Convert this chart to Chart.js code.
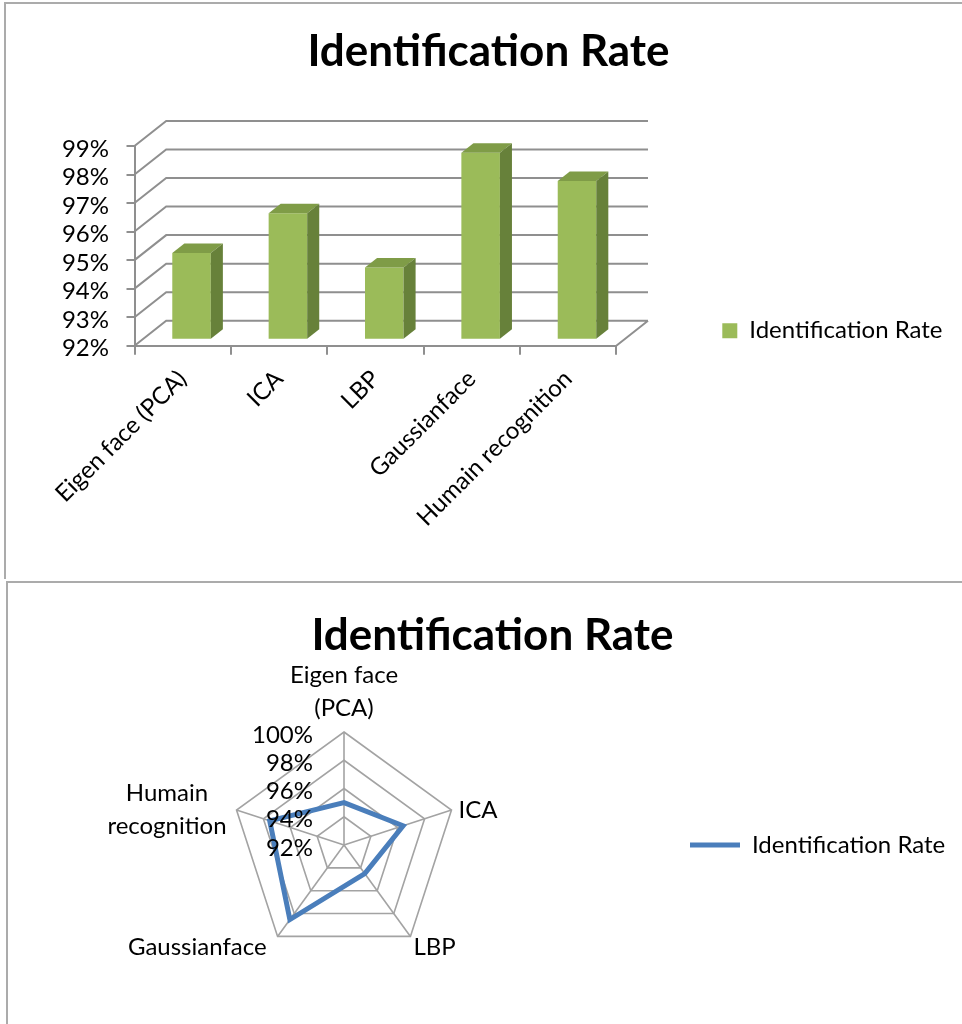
<!DOCTYPE html>
<html>
<head>
<meta charset="utf-8">
<title>Identification Rate</title>
<script src="https://cdn.jsdelivr.net/npm/chart.js@4.4.0/dist/chart.umd.min.js"></script>
<style>
  body { margin: 0; background: #fff; width: 962px; height: 1024px; overflow: hidden; position: relative; }
  .panel { position: absolute; border-left: 2px solid #ababab; border-top: 2px solid #ababab; }
  #barPanel { left: 4px; top: 2px; width: 960px; height: 575px; }
  #radarPanel { left: 6px; top: 581px; width: 960px; height: 445px; }
  canvas { position: absolute; left: 0; top: 0; }
</style>
</head>
<body>
<div class="panel" id="barPanel"><canvas id="barChart" width="956" height="573"></canvas></div>
<div class="panel" id="radarPanel"><canvas id="radarChart" width="954" height="441"></canvas></div>

<script>
// data
const categories = ['Eigen face (PCA)', 'ICA', 'LBP', 'Gaussianface', 'Humain recognition'];
const radarLabels = [['Eigen face', '(PCA)'], 'ICA', 'LBP', 'Gaussianface', ['Humain', 'recognition']];
const identificationRate = [95.0, 96.4, 94.5, 98.52, 97.53];
const barTicks = [92, 93, 94, 95, 96, 97, 98, 99];
const radarTicks = [92, 94, 96, 98, 100];

const FONT = 'Lato, "Open Sans", sans-serif';
const TEXT_SIZE = 24;
const GRID = '#8f8f8f';
const WEB = '#a3a3a3';
Chart.defaults.font.family = FONT;
Chart.defaults.color = '#000';

// legend text width decides how far the legends sit from the plots
const measure = document.createElement('canvas').getContext('2d');
measure.font = TEXT_SIZE + 'px ' + FONT;
const legendTextW = measure.measureText('Identification Rate').width;

// ---------- 3D column chart ----------
const DEPTH_X = 31.7, DEPTH_Y = -25;   // wall depth
const BAR_FRONT = 0.28, BAR_DEPTH = 0.38;

const bar = { left: 128.5, right: 610.3, top: 142, bottom: 341.7, legendX: 716.3, titleX: 482.5, titleY: 48 };
const barPadR = 956 - (bar.legendX - 3) - (15 + TEXT_SIZE / 2 + 13 + legendTextW);
const barPadL = 2 * bar.titleX - 956 + barPadR;

const frame3d = {
    id: 'frame3d',
    beforeDatasetsDraw(chart) {
        const { ctx, chartArea: a, scales: { y } } = chart;
        ctx.save();
        ctx.strokeStyle = GRID;
        ctx.lineWidth = 2;
        ctx.beginPath();
        y.ticks.forEach(t => {
            const py = y.getPixelForValue(t.value);
            ctx.moveTo(a.left, py);
            ctx.lineTo(a.left + DEPTH_X, py + DEPTH_Y);
            ctx.lineTo(a.right + DEPTH_X, py + DEPTH_Y);
        });
        const yb = y.getPixelForValue(y.min);
        ctx.moveTo(a.right, yb);
        ctx.lineTo(a.right + DEPTH_X, yb + DEPTH_Y);
        ctx.stroke();
        ctx.restore();

        // columns stand a little behind the front edge of the floor
        ctx.save();
        ctx.translate(DEPTH_X * BAR_FRONT, DEPTH_Y * BAR_FRONT);
    },
    afterDatasetsDraw(chart) {
        const { ctx, scales: { y: ys } } = chart;
        const dx = DEPTH_X * BAR_DEPTH, dy = DEPTH_Y * BAR_DEPTH;
        const base = ys.getPixelForValue(ys.min);
        chart.getDatasetMeta(0).data.forEach(el => {
            const { x, y, width } = el.getProps(['x', 'y', 'width'], true);
            const l = x - width / 2, r = x + width / 2;
            // top face
            ctx.fillStyle = '#7f9c47';
            ctx.beginPath();
            ctx.moveTo(l, y); ctx.lineTo(l + dx, y + dy); ctx.lineTo(r + dx, y + dy); ctx.lineTo(r, y);
            ctx.closePath(); ctx.fill();
            // side face
            ctx.fillStyle = '#67813a';
            ctx.beginPath();
            ctx.moveTo(r, y); ctx.lineTo(r + dx, y + dy); ctx.lineTo(r + dx, base + dy); ctx.lineTo(r, base);
            ctx.closePath(); ctx.fill();
        });
        ctx.restore();
    }
};

new Chart(document.getElementById('barChart'), {
    type: 'bar',
    data: {
        labels: categories,
        datasets: [{
            label: 'Identification Rate',
            data: identificationRate,
            backgroundColor: '#9bbb59',
            borderWidth: 0,
            barPercentage: 0.4,
            categoryPercentage: 1
        }]
    },
    options: {
        responsive: false,
        animation: false,
        layout: { padding: { left: barPadL, right: barPadR, top: 0, bottom: 0 } },
        plugins: {
            title: {
                display: true,
                text: 'Identification Rate',
                font: { size: 44, weight: 'bold', lineHeight: 1.2 },
                padding: { top: bar.titleY - 26.4, bottom: bar.top - (bar.titleY - 26.4) - 52.8 }
            },
            legend: {
                position: 'right',
                align: 'end',
                fullSize: false,
                maxWidth: 600,
                labels: { boxWidth: 15, boxHeight: 15, padding: 3, font: { size: TEXT_SIZE } }
            },
            tooltip: { enabled: false }
        },
        scales: {
            x: {
                grid: { display: true, drawOnChartArea: false, tickLength: 9, color: GRID, lineWidth: 2, offset: true },
                border: { display: true, color: GRID, width: 2 },
                ticks: { minRotation: 45, maxRotation: 45, autoSkip: false, padding: 10, font: { size: TEXT_SIZE } },
                afterFit: s => { s.height = 573 - bar.bottom; }
            },
            y: {
                min: barTicks[0],
                max: barTicks[barTicks.length - 1],
                afterBuildTicks: s => { s.ticks = barTicks.map(v => ({ value: v })); },
                grid: { display: true, drawOnChartArea: false, tickLength: 8, color: GRID, lineWidth: 2 },
                border: { display: true, color: GRID, width: 2 },
                ticks: { autoSkip: false, padding: 17.5, labelOffset: 3, font: { size: TEXT_SIZE }, callback: v => v + '%' },
                afterFit: s => { s.width = bar.left - barPadL; }
            },
            gap: {
                type: 'linear',
                position: 'right',
                grid: { display: false },
                border: { display: false },
                ticks: { display: false },
                afterFit: s => { s.width = bar.legendX - 3 - bar.right; }
            }
        }
    },
    plugins: [frame3d]
});

// ---------- radar chart ----------
const radar = { cx: 336, cy: 262, r: 113, legendX: 682, titleX: 484.5, titleY: 53 };
const radarLegendPad = 2 * radar.titleX - 2 * radar.cx - (50 + TEXT_SIZE / 2 + 10) - legendTextW;
const radarRight = radar.legendX - radarLegendPad;
const radarPadL = 2 * radar.cx - radarRight;
const radarPadR = 954 - 2 * radar.titleX + radarPadL;
const radarTop = radar.cy - radar.r;

// tick values and axis names drawn next to the web
const radarText = {
    id: 'radarText',
    afterDatasetsDraw(chart) {
        const { ctx } = chart;
        const s = chart.scales.r;
        ctx.save();
        ctx.font = TEXT_SIZE + 'px ' + FONT;
        ctx.fillStyle = '#000';
        ctx.textBaseline = 'middle';
        ctx.textAlign = 'right';
        s.ticks.forEach(t => {
            const d = s.getDistanceFromCenterForValue(t.value);
            ctx.fillText(t.value + '%', s.xCenter - 31, s.yCenter - d + 3);
        });

        const lh = 33;
        ctx.textAlign = 'center';
        chart.data.labels.forEach((lab, i) => {
            const lines = [].concat(lab);
            const p = s.getPointPosition(i, s.drawingArea);
            const w = Math.max(...lines.map(t => ctx.measureText(t).width));
            const h = lines.length * lh;
            const a = s.getIndexAngle(i);
            const sx = Math.sin(a), cy = Math.cos(a);
            let cx, top;
            if (Math.abs(sx) < 0.1) {
                cx = p.x;
                top = cy > 0 ? p.y - 7 - h : p.y + 4;
            } else if (cy > 0) {
                cx = sx > 0 ? p.x + 7 + w / 2 : p.x - 10 - w / 2;
                top = p.y - h / 2;
            } else {
                cx = sx > 0 ? p.x + 3 + w / 2 : p.x - 11 - w / 2;
                top = p.y - 6;
            }
            lines.forEach((t, k) => ctx.fillText(t, cx, top + lh * (k + 0.5)));
        });
        ctx.restore();
    }
};

new Chart(document.getElementById('radarChart'), {
    type: 'radar',
    data: {
        labels: radarLabels,
        datasets: [{
            label: 'Identification Rate',
            data: identificationRate,
            borderColor: '#4a7ebb',
            backgroundColor: '#4a7ebb',
            borderWidth: 5,
            borderCapStyle: 'round',
            pointRadius: 0,
            fill: false,
            tension: 0
        }]
    },
    options: {
        responsive: false,
        animation: false,
        layout: { padding: { left: radarPadL, right: radarPadR, top: 0, bottom: 441 - (radarTop + 2 * radar.r) } },
        plugins: {
            title: {
                display: true,
                text: 'Identification Rate',
                font: { size: 44, weight: 'bold', lineHeight: 1.2 },
                padding: { top: radar.titleY - 26.4, bottom: radarTop - (radar.titleY - 26.4) - 52.8 }
            },
            legend: {
                position: 'right',
                align: 'center',
                fullSize: false,
                maxWidth: 600,
                labels: {
                    usePointStyle: true,
                    pointStyle: 'line',
                    pointStyleWidth: 50,
                    padding: radarLegendPad,
                    font: { size: TEXT_SIZE }
                }
            },
            tooltip: { enabled: false }
        },
        scales: {
            r: {
                min: radarTicks[0],
                max: radarTicks[radarTicks.length - 1],
                afterBuildTicks: s => { s.ticks = radarTicks.map(v => ({ value: v })); },
                ticks: { display: false },
                pointLabels: { display: false },
                grid: { color: WEB, lineWidth: 1.6 },
                angleLines: { color: WEB, lineWidth: 1.6 }
            }
        }
    },
    plugins: [radarText]
});
</script>
</body>
</html>
